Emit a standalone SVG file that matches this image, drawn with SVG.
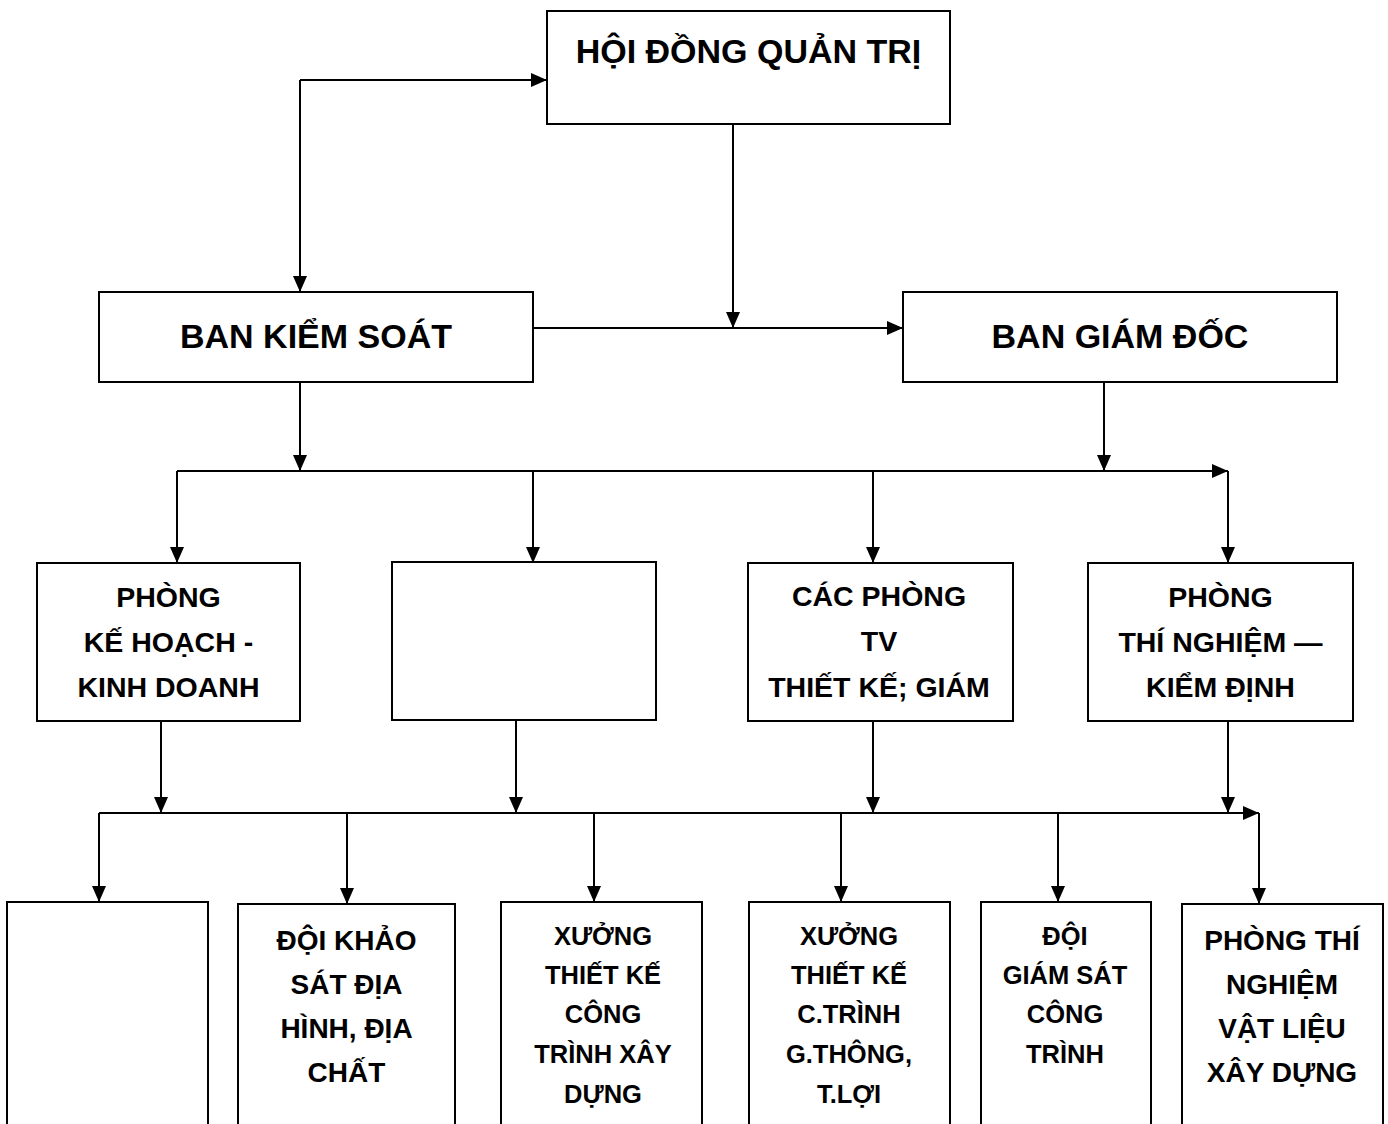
<svg xmlns="http://www.w3.org/2000/svg" width="1388" height="1124" viewBox="0 0 1388 1124">
<style>
.box{fill:#fff;stroke:#000;stroke-width:2}
.t{font-family:"Liberation Sans",Arial,sans-serif;font-weight:bold;fill:#000;text-anchor:middle}
.t1{font-size:34px}
.t2{font-size:28.5px}
.t3{font-size:28px}
.t4{font-size:25.5px}
.c{stroke:#000;stroke-width:2;fill:none}
.a{marker-end:url(#ah)}
</style>
<defs>
<marker id="ah" markerUnits="userSpaceOnUse" markerWidth="16" markerHeight="14" refX="16" refY="7" orient="auto">
<path d="M0,0 L16,7 L0,14 z" fill="#000"/>
</marker>
</defs>
<rect width="1388" height="1124" fill="#fff"/>
<g id="connectors">
<line class="c a" x1="300" y1="80" x2="547" y2="80"/>
<line class="c a" x1="300" y1="80" x2="300" y2="292"/>
<line class="c a" x1="733" y1="124" x2="733" y2="328"/>
<line class="c a" x1="533" y1="328" x2="903" y2="328"/>
<line class="c a" x1="300" y1="382" x2="300" y2="471"/>
<line class="c a" x1="1104" y1="382" x2="1104" y2="471"/>
<line class="c a" x1="177" y1="471" x2="1228" y2="471"/>
<line class="c a" x1="1228" y1="471" x2="1228" y2="563"/>
<line class="c a" x1="177" y1="471" x2="177" y2="563"/>
<line class="c a" x1="533" y1="471" x2="533" y2="563"/>
<line class="c a" x1="873" y1="471" x2="873" y2="563"/>
<line class="c a" x1="161" y1="721" x2="161" y2="813"/>
<line class="c a" x1="516" y1="720" x2="516" y2="813"/>
<line class="c a" x1="873" y1="721" x2="873" y2="813"/>
<line class="c a" x1="1228" y1="721" x2="1228" y2="813"/>
<line class="c a" x1="99" y1="813" x2="1259" y2="813"/>
<line class="c a" x1="1259" y1="813" x2="1259" y2="904"/>
<line class="c a" x1="99" y1="813" x2="99" y2="902"/>
<line class="c a" x1="347" y1="813" x2="347" y2="904"/>
<line class="c a" x1="594" y1="813" x2="594" y2="902"/>
<line class="c a" x1="841" y1="813" x2="841" y2="902"/>
<line class="c a" x1="1058" y1="813" x2="1058" y2="902"/>
</g>
<g id="hdqt">
<rect class="box" x="547" y="11" width="403" height="113"/>
<text class="t t1" x="748.5" y="63">HỘI ĐỒNG QUẢN TRỊ</text>
</g>
<g id="bks">
<rect class="box" x="99" y="292" width="434" height="90"/>
<text class="t t1" x="316" y="348">BAN KIỂM SOÁT</text>
</g>
<g id="bgd">
<rect class="box" x="903" y="292" width="434" height="90"/>
<text class="t t1" x="1120" y="348">BAN GIÁM ĐỐC</text>
</g>
<g id="p-khkd">
<rect class="box" x="37" y="563" width="263" height="158"/>
<text class="t t2" x="168.5" y="607">PHÒNG</text>
<text class="t t2" x="168.5" y="652">KẾ HOẠCH -</text>
<text class="t t2" x="168.5" y="697">KINH DOANH</text>
</g>
<g id="p-empty">
<rect class="box" x="392" y="562" width="264" height="158"/>
</g>
<g id="p-tv">
<rect class="box" x="748" y="563" width="265" height="158"/>
<text class="t t2" x="879" y="606">CÁC PHÒNG</text>
<text class="t t2" x="879" y="651">TV</text>
<text class="t t2" x="879" y="697">THIẾT KẾ; GIÁM</text>
</g>
<g id="p-tnkd">
<rect class="box" x="1088" y="563" width="265" height="158"/>
<text class="t t2" x="1220.5" y="607">PHÒNG</text>
<text class="t t2" x="1220.5" y="652">THÍ NGHIỆM —</text>
<text class="t t2" x="1220.5" y="697">KIỂM ĐỊNH</text>
</g>
<g id="d-empty">
<rect class="box" x="7" y="902" width="201" height="240"/>
</g>
<g id="d-khaosat">
<rect class="box" x="238" y="904" width="217" height="240"/>
<text class="t t3" x="346.5" y="950">ĐỘI KHẢO</text>
<text class="t t3" x="346.5" y="994">SÁT ĐỊA</text>
<text class="t t3" x="346.5" y="1038">HÌNH, ĐỊA</text>
<text class="t t3" x="346.5" y="1082">CHẤT</text>
</g>
<g id="x-xaydung">
<rect class="box" x="501" y="902" width="201" height="240"/>
<text class="t t4" x="603" y="945">XƯỞNG</text>
<text class="t t4" x="603" y="984">THIẾT KẾ</text>
<text class="t t4" x="603" y="1023">CÔNG</text>
<text class="t t4" x="603" y="1063">TRÌNH XÂY</text>
<text class="t t4" x="603" y="1103">DỰNG</text>
</g>
<g id="x-giaothong">
<rect class="box" x="749" y="902" width="201" height="240"/>
<text class="t t4" x="849" y="945">XƯỞNG</text>
<text class="t t4" x="849" y="984">THIẾT KẾ</text>
<text class="t t4" x="849" y="1023">C.TRÌNH</text>
<text class="t t4" x="849" y="1063">G.THÔNG,</text>
<text class="t t4" x="849" y="1103">T.LỢI</text>
</g>
<g id="d-giamsat">
<rect class="box" x="981" y="902" width="170" height="240"/>
<text class="t t4" x="1065" y="945">ĐỘI</text>
<text class="t t4" x="1065" y="984">GIÁM SÁT</text>
<text class="t t4" x="1065" y="1023">CÔNG</text>
<text class="t t4" x="1065" y="1063">TRÌNH</text>
</g>
<g id="p-vatlieu">
<rect class="box" x="1182" y="904" width="201" height="240"/>
<text class="t t3" x="1282" y="950">PHÒNG THÍ</text>
<text class="t t3" x="1282" y="994">NGHIỆM</text>
<text class="t t3" x="1282" y="1038">VẬT LIỆU</text>
<text class="t t3" x="1282" y="1082">XÂY DỰNG</text>
</g>
</svg>
